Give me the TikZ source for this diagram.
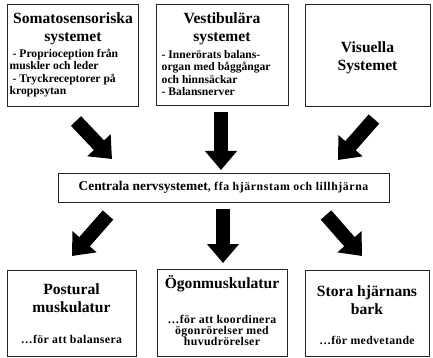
\documentclass[tikz,border=0pt]{standalone}
\usepackage{fontspec}
\setmainfont{Liberation Serif}
\usetikzlibrary{arrows.meta}
\newcommand{\ttlfont}{\fontsize{15.6}{18}\selectfont\bfseries}
\newcommand{\smlfont}{\fontsize{11.6}{12.3}\selectfont\bfseries}
\newcommand{\cnsfont}{\fontsize{13.4}{15}\selectfont\bfseries}
\newcommand{\cnssmall}{\fontsize{11.8}{13}\selectfont\bfseries\addfontfeature{LetterSpace=5}}
\newcommand{\botsml}{\fontsize{11.8}{10.8}\selectfont\bfseries\addfontfeature{LetterSpace=3}}
\begin{document}
\begin{tikzpicture}[x=1pt,y=-1pt,
  box/.style={draw=black!85,line width=0.9pt,inner sep=0pt,fill=white},
  txt/.style={inner sep=0pt,align=center},
  ltxt/.style={inner sep=0pt,align=left,anchor=west},
  bigarrow/.style={line width=14pt,-{Triangle[width=31pt,length=19pt]},black}]
\useasboundingbox (0,0) rectangle (433,358);
% boxes
\node[box,minimum width=131pt,minimum height=102pt] (som) at (73,55) {};
\node[box,minimum width=132pt,minimum height=101pt] (ves) at (222,54.5) {};
\node[box,minimum width=125pt,minimum height=102pt] (vis) at (367.5,55) {};
\node[box,minimum width=331pt,minimum height=29pt] (cns) at (223.5,187.5) {};
\node[box,minimum width=129pt,minimum height=86pt] (pos) at (71.5,313) {};
\node[box,minimum width=130pt,minimum height=87pt] (ogo) at (222,312.5) {};
\node[box,minimum width=124pt,minimum height=86pt] (bar) at (367,313) {};
% texts top
\node[txt,font=\ttlfont] (somT) at (73,29) {Somatosensoriska\\systemet};
\node[ltxt,font=\smlfont] (somL) at (9.5,73) {\hspace*{3pt}- Proprioception från\\muskler och leder\\\hspace*{3pt}- Tryckreceptorer på\\kroppsytan};
\node[txt,font=\ttlfont] (vesT) at (222,29) {Vestibulära\\systemet};
\node[ltxt,font=\smlfont] (vesL) at (161.5,73) {- Innerörats balans-\\organ med båggångar\\och hinnsäckar\\- Balansnerver};
\node[txt,font=\ttlfont] (visT) at (367.5,58) {Visuella\\Systemet};
% central
\node[txt] (cnsT) at (223.5,187.5) {{\cnsfont Centrala nervsystemet}{\cnssmall , ffa hjärnstam och lillhjärna}};
% bottom texts
\node[txt,font=\ttlfont] (posT) at (71.5,298.5) {Postural\\muskulatur};
\node[txt,font=\botsml] (posS) at (71.5,339.5) {…för att balansera};
\node[txt,font=\ttlfont] (ogoT) at (222,283.5) {Ögonmuskulatur};
\node[txt,font=\botsml] (ogoS) at (222,330.5) {…för att koordinera\\ögonrörelser med\\huvudrörelser};
\node[txt,font=\ttlfont] (barT) at (367,300.5) {Stora hjärnans\\bark};
\node[txt,font=\botsml] (barS) at (367,340) {…för medvetande};
% arrow endpoints
\coordinate (t1a) at (76,121);  \coordinate (t1b) at (112,159);
\coordinate (t2a) at (221,112); \coordinate (t2b) at (221,170);
\coordinate (t3a) at (374,119); \coordinate (t3b) at (338,160);
\coordinate (b1a) at (108,215); \coordinate (b1b) at (72,256);
\coordinate (b2a) at (223,209); \coordinate (b2b) at (223,263);
\coordinate (b3a) at (326,215); \coordinate (b3b) at (362,256);
\draw[bigarrow] (t1a) -- (t1b);
\draw[bigarrow] (t2a) -- (t2b);
\draw[bigarrow] (t3a) -- (t3b);
\draw[bigarrow] (b1a) -- (b1b);
\draw[bigarrow] (b2a) -- (b2b);
\draw[bigarrow] (b3a) -- (b3b);
\end{tikzpicture}
\end{document}
